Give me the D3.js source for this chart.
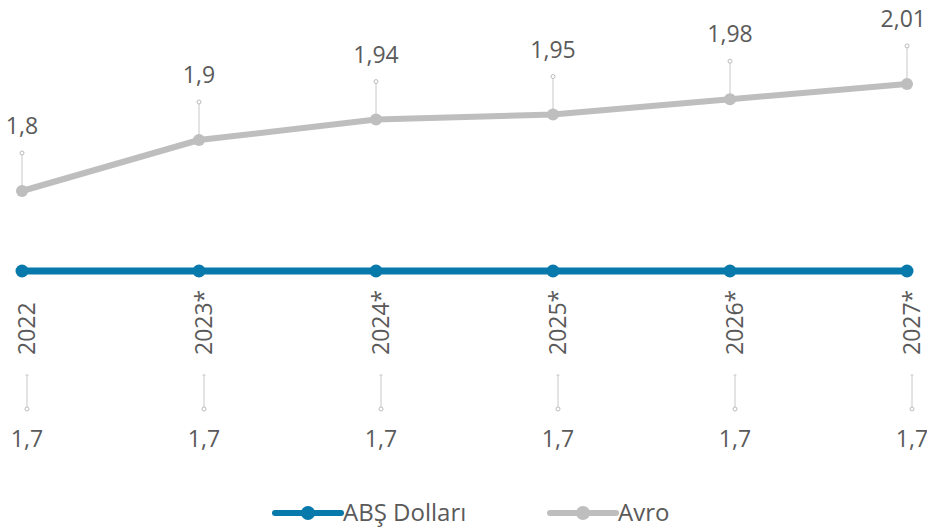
<!DOCTYPE html>
<html>
<head>
<meta charset="utf-8">
<script src="https://cdn.jsdelivr.net/npm/d3@7"></script>
<style>
  html, body { margin: 0; padding: 0; background: #fff; }
  svg { display: block; font-family: 'Open Sans', sans-serif; }
</style>
</head>
<body>
<div id="chart"></div>
<script>
const years = ['2022', '2023*', '2024*', '2025*', '2026*', '2027*'];
const usd_values = [1.7, 1.7, 1.7, 1.7, 1.7, 1.7];
const eur_values = [1.8, 1.9, 1.94, 1.95, 1.98, 2.01];
const series_names = ['ABŞ Dolları', 'Avro'];

const width = 927, height = 529;
const blue = '#0879ab', grey = '#bebebe', text_col = '#5a5a5a';

const svg = d3.select('#chart').append('svg')
    .attr('width', width)
    .attr('height', height);

const x = d3.scalePoint().domain(years).range([22, 907]);
// Avro on its own scale, dollar on a second one (the original stacks them)
const y_eur = d3.scaleLinear().domain([1.8, 2.01]).range([191, 83.9]);
const y_usd = d3.scaleLinear().domain([1.6, 1.8]).range([321, 221]);

const fmt = v => String(v).replace('.', ',');

// Avro line
svg.append('path')
    .datum(eur_values)
    .attr('fill', 'none')
    .attr('stroke', grey)
    .attr('stroke-width', 6)
    .attr('stroke-linejoin', 'round')
    .attr('d', d3.line().x((d, i) => x(years[i])).y(d => y_eur(d)));

// Avro leader lines + labels
const eur_lab = svg.append('g');
eur_values.forEach((v, i) => {
    const cx = x(years[i]), cy = y_eur(v);
    eur_lab.append('line')
        .attr('x1', cx).attr('x2', cx)
        .attr('y1', cy).attr('y2', cy - 37)
        .attr('stroke', '#c8c8c8').attr('stroke-width', 1);
    eur_lab.append('circle')
        .attr('cx', cx).attr('cy', cy - 38).attr('r', 2)
        .attr('fill', '#fff').attr('stroke', '#bbb').attr('stroke-width', 1);
    const t = eur_lab.append('text')
        .attr('x', cx).attr('y', cy - 57)
        .attr('text-anchor', 'middle')
        .attr('fill', text_col)
        .attr('font-size', '23px')
        .text(fmt(v));
    // keep the last label inside the frame
    const bb = t.node().getBBox();
    if (bb.x + bb.width > width - 1) {
        t.attr('text-anchor', 'end').attr('x', width - 1);
    }
});

svg.append('g').selectAll('circle')
    .data(eur_values)
    .join('circle')
    .attr('cx', (d, i) => x(years[i]))
    .attr('cy', d => y_eur(d))
    .attr('r', 6)
    .attr('fill', grey);

// Dollar line
svg.append('path')
    .datum(usd_values)
    .attr('fill', 'none')
    .attr('stroke', blue)
    .attr('stroke-width', 7)
    .attr('d', d3.line().x((d, i) => x(years[i])).y(d => y_usd(d)));

svg.append('g').selectAll('circle')
    .data(usd_values)
    .join('circle')
    .attr('cx', (d, i) => x(years[i]))
    .attr('cy', d => y_usd(d))
    .attr('r', 6.5)
    .attr('fill', blue);

// Year labels (rotated)
svg.append('g').selectAll('text')
    .data(years)
    .join('text')
    .attr('transform', d => `translate(${x(d) + 5},355) rotate(-90)`)
    .attr('dy', '0.35em')
    .attr('text-anchor', 'start')
    .attr('fill', text_col)
    .attr('font-size', '23px')
    .text(d => d);

// Dollar leader lines + labels below
const usd_lab = svg.append('g');
usd_values.forEach((v, i) => {
    const cx = x(years[i]) + 5, cy = y_usd(v);
    usd_lab.append('line')
        .attr('x1', cx).attr('x2', cx)
        .attr('y1', cy + 104).attr('y2', cy + 136)
        .attr('stroke', '#c8c8c8').attr('stroke-width', 1);
    usd_lab.append('line')
        .attr('x1', cx - 1.5).attr('x2', cx + 1.5)
        .attr('y1', cy + 104).attr('y2', cy + 104)
        .attr('stroke', '#c8c8c8').attr('stroke-width', 1);
    usd_lab.append('circle')
        .attr('cx', cx).attr('cy', cy + 138).attr('r', 2)
        .attr('fill', '#fff').attr('stroke', '#bbb').attr('stroke-width', 1);
    usd_lab.append('text')
        .attr('x', cx).attr('y', cy + 176)
        .attr('text-anchor', 'middle')
        .attr('fill', text_col)
        .attr('font-size', '23px')
        .text(fmt(v));
});

// Legend
const legend = svg.append('g').attr('transform', 'translate(0,513)');
const legend_items = [
    { name: series_names[0], color: blue, x0: 275 },
    { name: series_names[1], color: grey, x0: 550 }
];
legend_items.forEach(it => {
    legend.append('line')
        .attr('x1', it.x0).attr('x2', it.x0 + 66)
        .attr('y1', 0).attr('y2', 0)
        .attr('stroke', it.color).attr('stroke-width', 6)
        .attr('stroke-linecap', 'round');
    legend.append('circle')
        .attr('cx', it.x0 + 33).attr('cy', 0).attr('r', 7)
        .attr('fill', it.color);
    legend.append('text')
        .attr('x', it.x0 + 68).attr('y', 0)
        .attr('dy', '0.35em')
        .attr('fill', text_col)
        .attr('font-size', '24px')
        .text(it.name);
});
</script>
</body>
</html>
